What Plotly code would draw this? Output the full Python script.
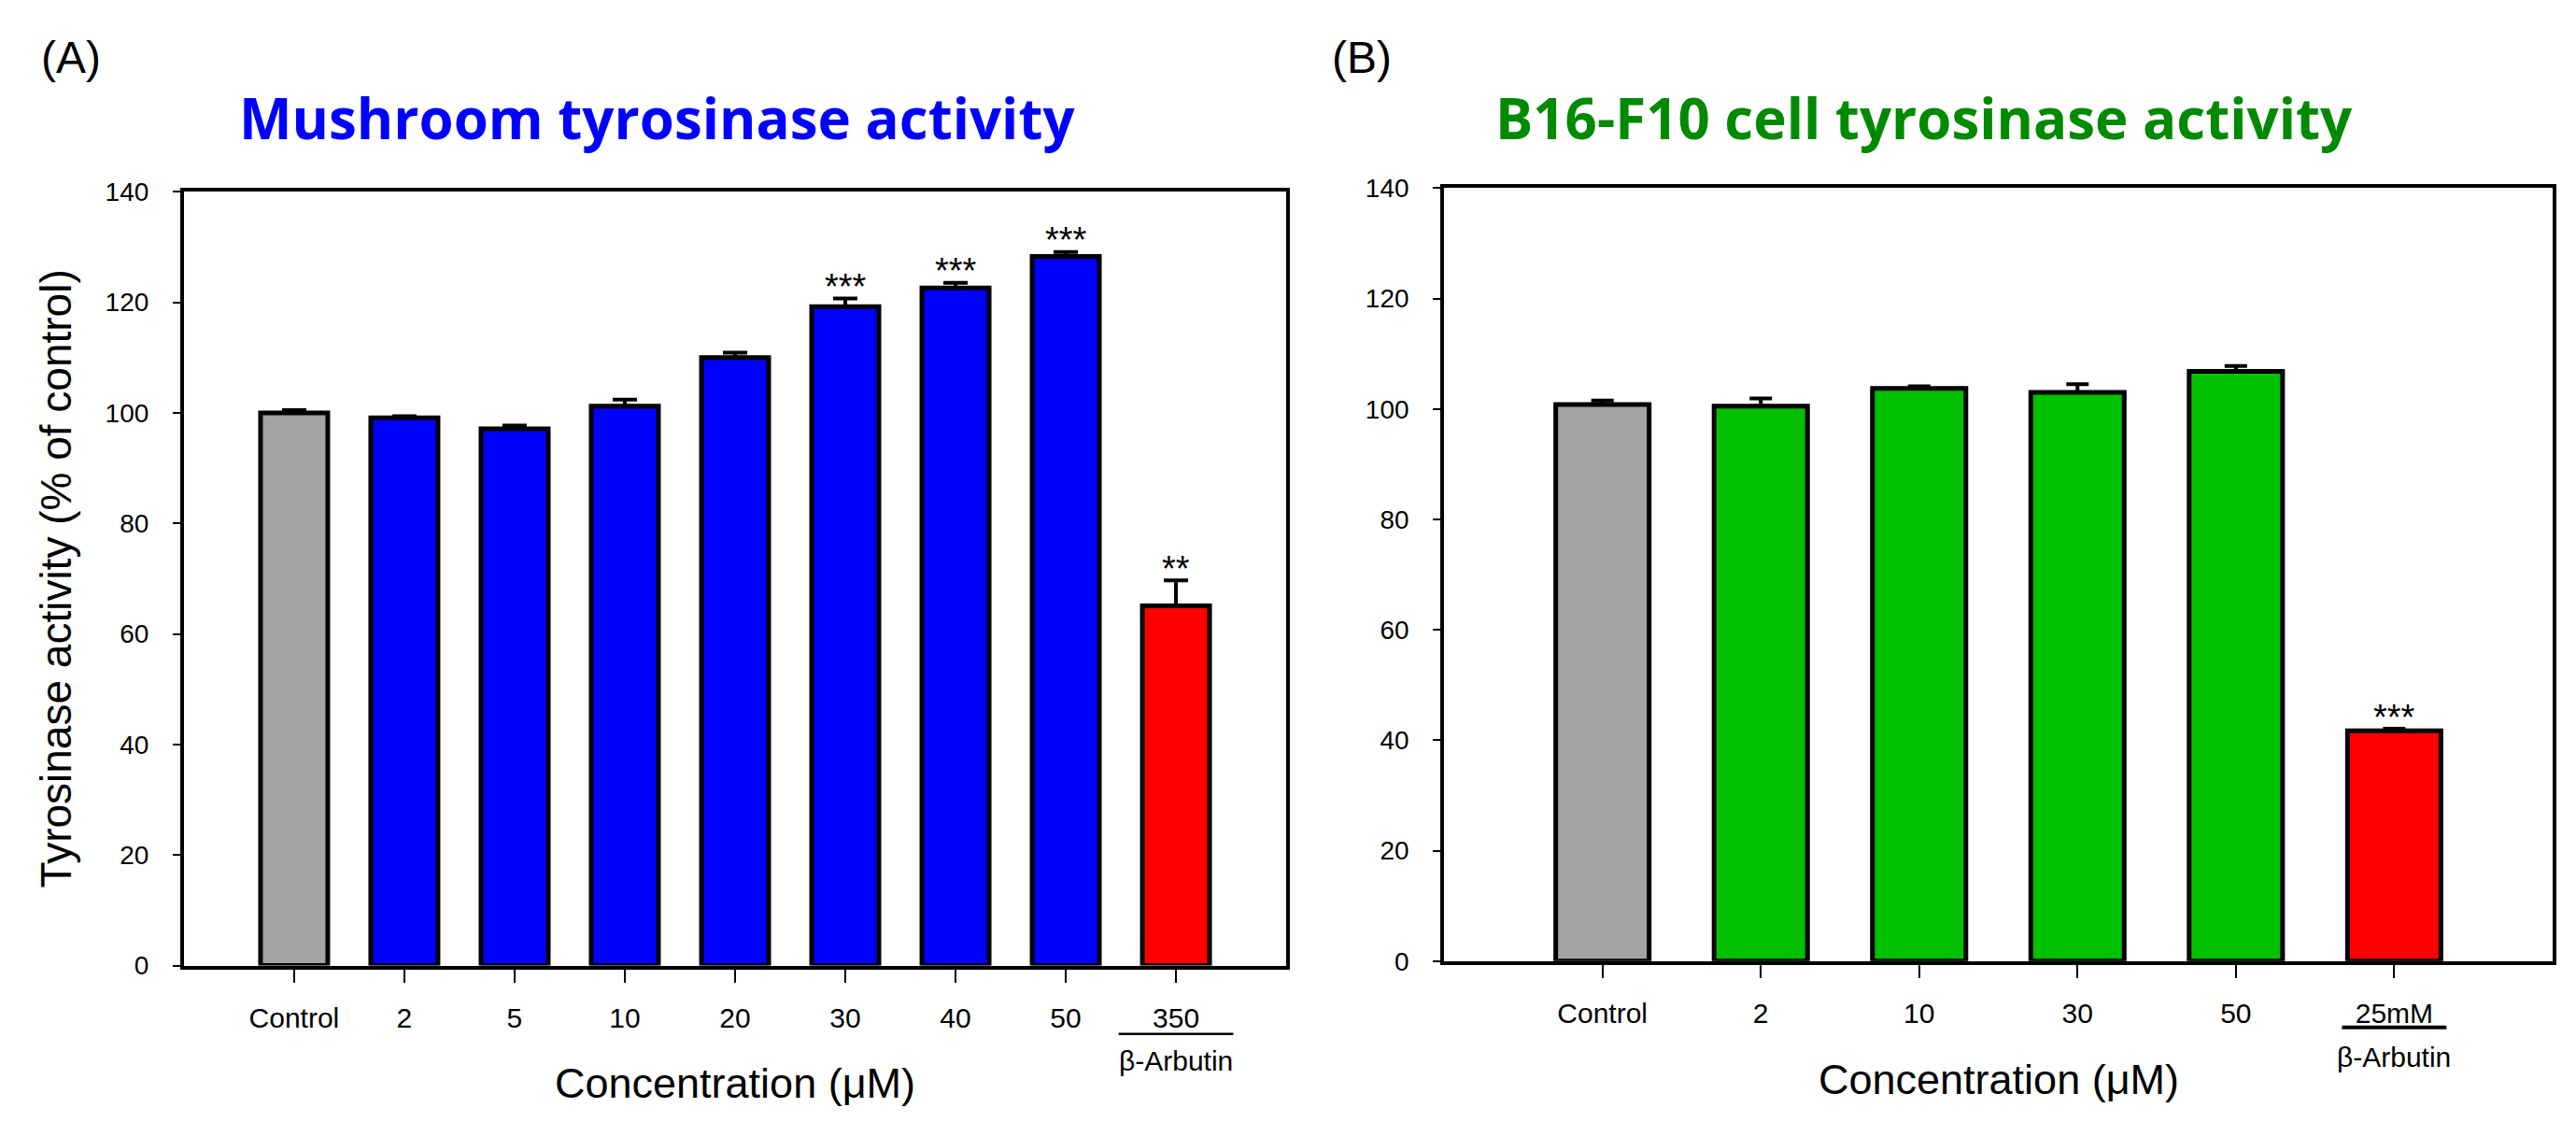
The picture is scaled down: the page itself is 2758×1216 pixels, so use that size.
import plotly.graph_objects as go

# ---------------- data ----------------
cats_a = ["Control", "2", "5", "10", "20", "30", "40", "50", "350"]
vals_a = [100.0, 99.1, 97.1, 101.2, 110.0, 119.2, 122.6, 128.3, 65.1]
err_a = [0.5, 0.3, 0.6, 1.2, 0.9, 1.5, 0.9, 0.8, 4.6]
sig_a = ["", "", "", "", "", "***", "***", "***", "**"]

cats_b = ["Control", "2", "10", "30", "50", "25mM"]
vals_b = [100.8, 100.5, 103.7, 103.0, 106.8, 41.7]
err_b = [0.7, 1.4, 0.4, 1.5, 1.0, 0.4]
sig_b = ["", "", "", "", "", "***"]

y_ticks = [0, 20, 40, 60, 80, 100, 120, 140]
title_a = "Mushroom tyrosinase activity"
title_b = "B16-F10 cell tyrosinase activity"
y_title = "Tyrosinase activity (% of control)"
x_title = "Concentration (\u03bcM)"
ref_label = "\u03b2-Arbutin"

# ---------------- styles ----------------
GRAY, RED, BLUE, GREEN = "#A3A3A3", "#FF0000", "#0000FF", "#00C000"
FONT = "Liberation Sans, Arial, sans-serif"
TFONT = "Open Sans, sans-serif"
W, H = 2758, 1216


def bar_colors(n, mid):
    return [GRAY] + [mid] * (n - 2) + [RED]


fig = go.Figure()

fig.add_trace(go.Bar(
    x=list(range(len(cats_a))), y=vals_a, width=0.61, xaxis="x", yaxis="y",
    marker=dict(color=bar_colors(len(cats_a), BLUE), line=dict(color="black", width=5)),
    error_y=dict(type="data", array=err_a, arrayminus=[0] * len(err_a), symmetric=False,
                 color="black", thickness=4, width=13),
    showlegend=False,
))
fig.add_trace(go.Bar(
    x=list(range(len(cats_b))), y=vals_b, width=0.59, xaxis="x2", yaxis="y2",
    marker=dict(color=bar_colors(len(cats_b), GREEN), line=dict(color="black", width=5)),
    error_y=dict(type="data", array=err_b, arrayminus=[0] * len(err_b), symmetric=False,
                 color="black", thickness=4, width=12),
    showlegend=False,
))

axis_common = dict(
    showline=True, linecolor="black", linewidth=4, mirror=True,
    ticks="outside", tickcolor="black", showgrid=False, zeroline=False,
)

fig.update_layout(
    width=W, height=H, autosize=False,
    margin=dict(l=0, r=0, t=0, b=0),
    paper_bgcolor="white", plot_bgcolor="white",
    font=dict(family=FONT, color="black"),
    xaxis=dict(domain=[0.0685, 0.4964], anchor="y", range=[-1, 9],
               tickmode="array", tickvals=list(range(len(cats_a))), ticktext=cats_a,
               ticklen=14, tickwidth=2, tickfont=dict(size=30), ticklabelstandoff=12,
               **axis_common),
    yaxis=dict(domain=[0.1472, 0.8462], anchor="x", range=[0, 140], tickvals=y_ticks,
               ticklen=8, tickwidth=2, tickfont=dict(size=28), ticklabelstandoff=20,
               **axis_common),
    xaxis2=dict(domain=[0.5577, 0.988], anchor="y2", range=[-1, 6],
                tickmode="array", tickvals=list(range(len(cats_b))), ticktext=cats_b,
                ticklen=14, tickwidth=2, tickfont=dict(size=30), ticklabelstandoff=12,
                **axis_common),
    yaxis2=dict(domain=[0.1513, 0.8495], anchor="x2", range=[0, 140], tickvals=y_ticks,
                ticklen=8, tickwidth=2, tickfont=dict(size=28), ticklabelstandoff=20,
                **axis_common),
)


def note(**kw):
    d = dict(showarrow=False, xanchor="center", yanchor="middle")
    d.update(kw)
    return d


ann = []
# significance stars
for xa, ya, vals, errs, sigs in (("x", "y", vals_a, err_a, sig_a),
                                 ("x2", "y2", vals_b, err_b, sig_b)):
    for i, (v, e, s) in enumerate(zip(vals, errs, sigs)):
        if s:
            ann.append(note(x=i, y=v + e + 2.1, xref=xa, yref=ya, text=s,
                            font=dict(size=38, family=FONT, color="black")))

# panel labels and titles
ann += [
    note(x=68 / W, y=1 - 40 / H, xref="paper", yref="paper", text="(A)",
         font=dict(size=48, family=FONT)),
    note(x=1450 / W, y=1 - 40 / H, xref="paper", yref="paper", text="(B)",
         font=dict(size=48, family=FONT)),
    note(x=695 / W, y=1 - 106 / H, xref="paper", yref="paper", text="<b>%s</b>" % title_a,
         font=dict(size=60, family=TFONT, color="#0000FF")),
    note(x=2052 / W, y=1 - 106 / H, xref="paper", yref="paper", text="<b>%s</b>" % title_b,
         font=dict(size=60, family=TFONT, color="#008A00")),
    # axis titles
    note(x=52 / W, y=1 - 612 / H, xref="paper", yref="paper", text=y_title, textangle=-90,
         font=dict(size=46, family=FONT)),
    note(x=0.5, y=1 - 1166 / H, xref="x domain", yref="paper", text=x_title,
         font=dict(size=45, family=FONT)),
    note(x=0.5, y=1 - 1162 / H, xref="x2 domain", yref="paper", text=x_title,
         font=dict(size=45, family=FONT)),
    # reference compound labels
    note(x=len(cats_a) - 1, y=1 - 1142 / H, xref="x", yref="paper", text=ref_label,
         font=dict(size=30, family=FONT)),
    note(x=len(cats_b) - 1, y=1 - 1138 / H, xref="x2", yref="paper", text=ref_label,
         font=dict(size=30, family=FONT)),
]
fig.update_layout(annotations=ann)

ia = len(cats_a) - 1
ib = len(cats_b) - 1
fig.update_layout(shapes=[
    dict(type="line", xref="x", yref="paper", x0=ia - 0.52, x1=ia + 0.52,
         y0=1 - 1112 / H, y1=1 - 1112 / H, line=dict(color="black", width=2.5)),
    dict(type="line", xref="x2", yref="paper", x0=ib - 0.33, x1=ib + 0.33,
         y0=1 - 1105 / H, y1=1 - 1105 / H, line=dict(color="black", width=4)),
])

fig.write_html("out.html")
